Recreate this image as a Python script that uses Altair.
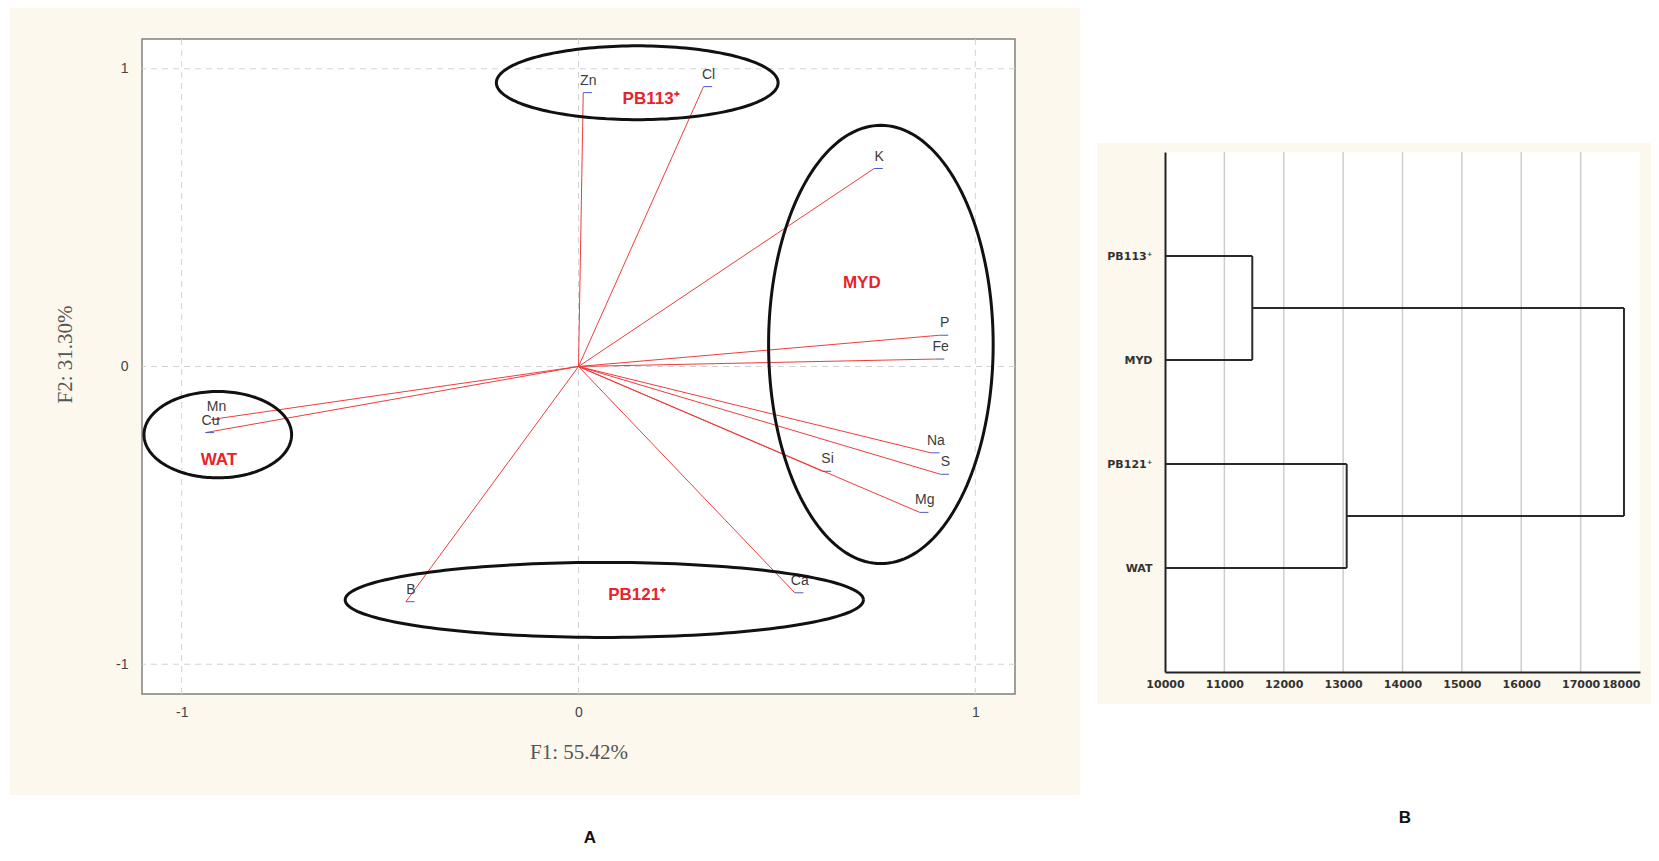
import altair as alt
import numpy as np
import pandas as pd

# ---------------- Panel A : PCA correlation circle ----------------
elements = ["Zn", "Cl", "K", "P", "Fe", "Na", "S", "Si", "Mg", "Ca", "B", "Mn", "Cu"]
f1 = [0.012, 0.315, 0.745, 0.91, 0.90, 0.888, 0.912, 0.615, 0.86, 0.545, -0.435, -0.925, -0.94]
f2 = [0.92, 0.94, 0.665, 0.105, 0.025, -0.29, -0.362, -0.352, -0.49, -0.76, -0.79, -0.178, -0.222]

groups = ["PB113⁺", "MYD", "WAT", "PB121⁺"]
group_x = [0.183, 0.714, -0.906, 0.148]
group_y = [0.897, 0.281, -0.314, -0.767]
ell_cx = [0.148, 0.762, -0.909, 0.065]
ell_cy = [0.953, 0.074, -0.229, -0.784]
ell_rx = [0.355, 0.283, 0.186, 0.653]
ell_ry = [0.124, 0.736, 0.145, 0.126]

ticks_a = [-1, 0, 1]

# ---------------- Panel B : dendrogram ----------------
leaves = ["PB113⁺", "MYD", "PB121⁺", "WAT"]
leaf_pos = [4, 3, 2, 1]
merge_left = [0, 2, 4]
merge_right = [1, 3, 5]
merge_heights = [11470, 13060, 17730]
dist_ticks = [10000, 11000, 12000, 13000, 14000, 15000, 16000, 17000, 18000]

BEIGE = "#fcf8ed"
RED_LINE = "#ee3d3d"
RED_TEXT = "#e8232b"
BLUE = "#4a5cc8"

WA, HA = 873, 655
WB, HB = 475, 520

one = pd.DataFrame({"k": [0]})

sxA = alt.Scale(domain=[-1.1, 1.1], nice=False, zero=False)
syA = alt.Scale(domain=[-1.1, 1.1], nice=False, zero=False)

axXA = alt.Axis(title="F1: 55.42%", values=ticks_a, labelExpr="'' + datum.value",
                grid=False, ticks=False, domain=False,
                labelFont="Liberation Sans", labelFontSize=14, labelColor="#444",
                labelPadding=11, titleFont="Liberation Serif", titleFontSize=21,
                titleFontWeight="normal", titleColor="#555", titlePadding=22, zindex=1)
axYA = alt.Axis(title="F2: 31.30%", values=ticks_a, labelExpr="'' + datum.value",
                grid=False, ticks=False, domain=False,
                labelFont="Liberation Sans", labelFontSize=14, labelColor="#444",
                labelPadding=14, titleFont="Liberation Serif", titleFontSize=21,
                titleFontWeight="normal", titleColor="#555", titlePadding=40,
                titleY=315, zindex=1)

vec = pd.DataFrame({"el": elements, "x": f1, "y": f2})
vec["x0"] = 0.0
vec["y0"] = 0.0

XA = lambda f: alt.X(f, scale=sxA, axis=axXA)
YA = lambda f: alt.Y(f, scale=syA, axis=axYA)

bgA = alt.Chart(one).mark_rect(fill=BEIGE).encode(
    x=alt.value(-132), x2=alt.value(WA + 65), y=alt.value(-31), y2=alt.value(HA + 101))
frameA = alt.Chart(one).mark_rect(fill="white", stroke="#808080", strokeWidth=1.5).encode(
    x=alt.value(0), x2=alt.value(WA), y=alt.value(0), y2=alt.value(HA))

gridXA = alt.Chart(pd.DataFrame({"v": ticks_a})).mark_rule(
    color="#d2d2d2", strokeDash=[6, 5], strokeWidth=1).encode(x=XA("v:Q"))
gridYA = alt.Chart(pd.DataFrame({"v": ticks_a})).mark_rule(
    color="#d2d2d2", strokeDash=[6, 5], strokeWidth=1).encode(y=YA("v:Q"))

rays = alt.Chart(vec).mark_rule(color=RED_LINE, strokeWidth=1).encode(
    x=XA("x0:Q"), y=YA("y0:Q"), x2="x:Q", y2="y:Q")
markers = alt.Chart(vec).mark_point(shape="M0,0L1,0", size=300, filled=False,
                                    color=BLUE, strokeWidth=1, opacity=1).encode(
    x=XA("x:Q"), y=YA("y:Q"))
elabels = alt.Chart(vec).mark_text(dx=5, dy=-12, font="Liberation Sans", fontSize=14,
                                   color="#3c3c3c").encode(
    x=XA("x:Q"), y=YA("y:Q"), text="el:N")

t = np.linspace(0, 2 * np.pi, 181)
rows = []
for g, cx, cy, rx, ry in zip(groups, ell_cx, ell_cy, ell_rx, ell_ry):
    for i, tt in enumerate(t):
        rows.append({"g": g, "i": i, "x": cx + rx * np.cos(tt), "y": cy + ry * np.sin(tt)})
ell = pd.DataFrame(rows)
ellipses = alt.Chart(ell).mark_line(color="#111111", strokeWidth=3).encode(
    x=XA("x:Q"), y=YA("y:Q"), detail="g:N", order="i:Q")

gdf = pd.DataFrame({"g": groups, "x": group_x, "y": group_y})
gtext = alt.Chart(gdf).mark_text(font="Liberation Sans", fontSize=17, fontWeight="bold",
                                 color=RED_TEXT).encode(x=XA("x:Q"), y=YA("y:Q"), text="g:N")

letterA = alt.Chart(one).mark_text(text="A", font="Liberation Sans", fontSize=17,
                                   fontWeight="bold", color="#111").encode(
    x=alt.value(448), y=alt.value(799))

panelA = alt.layer(bgA, frameA, gridXA, gridYA, rays, markers, elabels, ellipses,
                   gtext, letterA).properties(width=WA, height=HA)

# ---------------- Panel B build ----------------
pts = [(dist_ticks[0], p) for p in leaf_pos]
segs = []
for a, b, h in zip(merge_left, merge_right, merge_heights):
    (xa, ya), (xb, yb) = pts[a], pts[b]
    segs.append((xa, ya, h, ya))
    segs.append((xb, yb, h, yb))
    segs.append((h, ya, h, yb))
    pts.append((h, (ya + yb) / 2))
seg = pd.DataFrame(segs, columns=["x", "y", "x2", "y2"])

sxB = alt.Scale(domain=[dist_ticks[0], dist_ticks[-1]], nice=False, zero=False)
syB = alt.Scale(domain=[0, 5], nice=False, zero=False)

label_expr = " : ".join(
    f"datum.value == {p} ? '{n}'" for p, n in zip(leaf_pos, leaves)) + " : ''"

axXB = alt.Axis(title=None, values=dist_ticks, format="d", grid=False, ticks=False,
                domainColor="#222", domainWidth=2, labelFont="DejaVu Sans",
                labelFontSize=11, labelFontWeight="bold", labelColor="#333",
                labelPadding=6,
                labelAlign=alt.condition(f"datum.value == {dist_ticks[-1]}",
                                         alt.value("right"), alt.value("center")),
                zindex=1)
axYB = alt.Axis(title=None, values=leaf_pos, labelExpr=label_expr, grid=False, ticks=False,
                domainColor="#222", domainWidth=2, labelFont="DejaVu Sans",
                labelFontSize=11, labelFontWeight="bold", labelColor="#333",
                labelPadding=13, zindex=1)

XB = lambda f: alt.X(f, scale=sxB, axis=axXB)
YB = lambda f: alt.Y(f, scale=syB, axis=axYB)

bgB = alt.Chart(one).mark_rect(fill=BEIGE).encode(
    x=alt.value(-68), x2=alt.value(WB + 11), y=alt.value(-9), y2=alt.value(HB + 32))
plotB = alt.Chart(one).mark_rect(fill="white").encode(
    x=alt.value(0), x2=alt.value(WB), y=alt.value(0), y2=alt.value(HB))
gridB = alt.Chart(pd.DataFrame({"v": dist_ticks[1:-1]})).mark_rule(
    color="#cdcdcd", strokeWidth=1.5).encode(x=XB("v:Q"))
dendro = alt.Chart(seg).mark_rule(color="#2a2a2a", strokeWidth=2).encode(
    x=XB("x:Q"), y=YB("y:Q"), x2="x2:Q", y2="y2:Q")
letterB = alt.Chart(one).mark_text(text="B", font="Liberation Sans", fontSize=17,
                                   fontWeight="bold", color="#111").encode(
    x=alt.value(240), y=alt.value(666))

panelB = alt.layer(bgB, plotB, gridB, dendro, letterB).properties(width=WB, height=HB)

spacer = alt.Chart(one).mark_text(text="").encode(
    x=alt.value(0), y=alt.value(0)).properties(width=WB, height=104)

right = alt.vconcat(spacer, panelB, spacing=0)

chart = alt.hconcat(panelA, right, spacing=17).properties(
    padding={"left": 2, "top": 0, "right": 0, "bottom": 0},
    background="white",
).configure_view(strokeWidth=0)

chart.save("out.html", embed_options={"renderer": "svg", "actions": False})
